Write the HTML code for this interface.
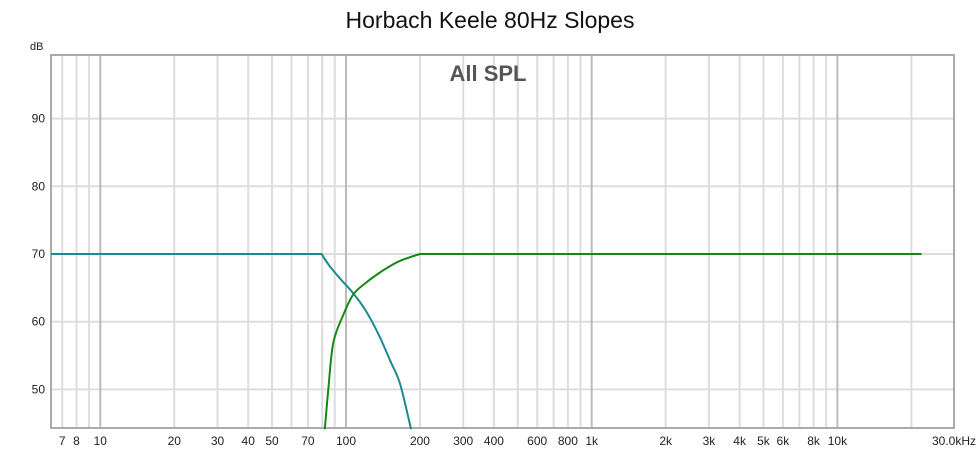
<!DOCTYPE html>
<html><head><meta charset="utf-8"><style>
body{margin:0;background:#fff;width:980px;height:451px;overflow:hidden;font-family:"Liberation Sans",sans-serif}
</style></head><body>
<svg width="980" height="451">
<text x="490" y="28" text-anchor="middle" font-size="23" fill="#111">Horbach Keele 80Hz Slopes</text>
<text x="30" y="50" font-size="11" fill="#222">dB</text>
<g id="grid"></g>
<rect x="51" y="55" width="903" height="373" fill="none" stroke="#aaa" stroke-width="2"/>
<text x="488" y="81" text-anchor="middle" font-size="22" font-weight="bold" fill="#555">All SPL</text>
<g id="series"></g>
<g id="labels"></g>
</svg>
<script>
const yTicks=[50,60,70,80,90];
const xGrid=[7,8,9,10,20,30,40,50,60,70,80,90,100,200,300,400,500,600,700,800,900,1000,2000,3000,4000,5000,6000,7000,8000,9000,10000,20000];
const xMajor=[10,100,1000,10000];
const xTickVals=[7,8,10,20,30,40,50,70,100,200,300,400,600,800,1000,2000,3000,4000,5000,6000,8000,10000,30000];
const xTickLabels=["7","8","10","20","30","40","50","70","100","200","300","400","600","800","1k","2k","3k","4k","5k","6k","8k","10k","30.0kHz"];
const lowFreq=[6.3,79.6,85,95,107,121,137,151,166,184];
const lowDb=[70,70,68.4,66.3,64.2,61.5,57.8,54.3,50.8,44.1];
const highFreq=[82,84.7,88.8,97.5,107,120,142,166,200,22000];
const highDb=[44.1,50,56.9,61,64.0,65.7,67.6,69.0,70,70];
const X0=51,X1=954,Y0=55,Y1=428;
function xs(f){return 346+(Math.log10(f)-2)*245.7;}
function ys(v){return 254-(v-70)*6.77;}
const NS="http://www.w3.org/2000/svg";
function mk(t,a,p){const e=document.createElementNS(NS,t);for(const k in a)e.setAttribute(k,a[k]);p.appendChild(e);return e;}
const grid=document.getElementById('grid'),ser=document.getElementById('series'),lab=document.getElementById('labels');
yTicks.forEach(v=>{
 const l=mk('line',{x1:X0,x2:X1,y1:ys(v),y2:ys(v),stroke:'#ddd','stroke-width':2},grid);
 
 
 const t=mk('text',{x:45,y:ys(v)+4,'text-anchor':'end','font-size':12,fill:'#222'},lab);
 t.textContent=v;
 
 
});
xGrid.forEach(f=>{
 const maj=xMajor.includes(f);
 const l=mk('line',{x1:xs(f),x2:xs(f),y1:Y0,y2:Y1,stroke:maj?'#bbb':'#ddd','stroke-width':2},grid);
 
 
});
xTickVals.forEach((f,i)=>{
 const last=i===xTickVals.length-1;
 const t=mk('text',{x:last?976:xs(f),y:445,'text-anchor':last?'end':'middle','font-size':12,fill:'#222'},lab);
 t.textContent=xTickLabels[i];
 
 
});
function line(fr,db,col,name){
 const P=fr.map((f,i)=>[xs(f),ys(db[i])]);
 let d='M'+P[0][0].toFixed(1)+','+P[0][1].toFixed(1);
 for(let i=0;i<P.length-1;i++){
  const p0=P[i-1]||P[i],p1=P[i],p2=P[i+1],p3=P[i+2]||P[i+1];
  const long=(p2[0]-p1[0])>150||(i>0&&(p1[0]-p0[0])>150)||(i+2<P.length&&(p3[0]-p2[0])>150);
  if((p2[0]-p1[0])>150){d+=' L'+p2[0].toFixed(1)+','+p2[1].toFixed(1);continue;}
  const q0=(p1[0]-p0[0])>150?p1:p0, q3=(p3[0]-p2[0])>150?p2:p3;
  const c1=[p1[0]+(p2[0]-q0[0])/6,p1[1]+(p2[1]-q0[1])/6];
  const c2=[p2[0]-(q3[0]-p1[0])/6,p2[1]-(q3[1]-p1[1])/6];
  d+=' C'+c1[0].toFixed(1)+','+c1[1].toFixed(1)+' '+c2[0].toFixed(1)+','+c2[1].toFixed(1)+' '+p2[0].toFixed(1)+','+p2[1].toFixed(1);
 }
 const p=mk('path',{d:d,fill:'none',stroke:col,'stroke-width':2,'stroke-linejoin':'round'},ser);
 
 
}
line(lowFreq,lowDb,'#1a8a8e','lowpass-curve');
line(highFreq,highDb,'#138a13','highpass-curve');
</script>
</body></html>
